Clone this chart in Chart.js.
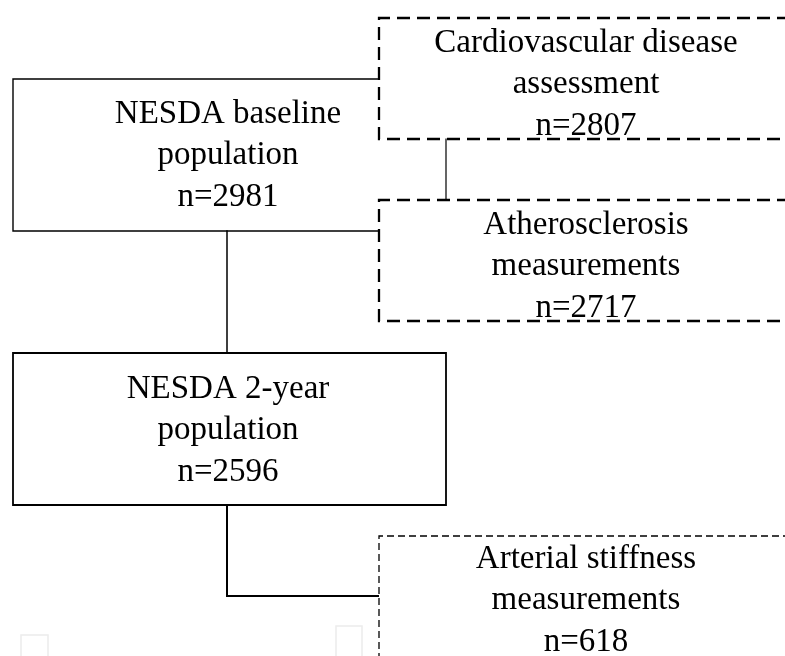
<!DOCTYPE html>
<html>
<head>
<meta charset="utf-8">
<script src="https://cdn.jsdelivr.net/npm/chart.js@4/dist/chart.umd.min.js"></script>
<style>
  html, body { margin: 0; padding: 0; background: #ffffff; }
  #wrap { width: 785px; height: 656px; }
</style>
</head>
<body>
<div id="wrap"><canvas id="c" width="785" height="656"></canvas></div>
<script>
// ---- Flowchart content (data) ----
const nodeTitles = [
  ["NESDA baseline", "population"],
  ["Cardiovascular disease", "assessment"],
  ["Atherosclerosis", "measurements"],
  ["NESDA 2-year", "population"],
  ["Arterial stiffness", "measurements"]
];
const nodeCounts = [2981, 2807, 2717, 2596, 618];

// node text anchor (center x, middle-line baseline y) in chart units
const nodeCenterX = [228, 586, 586, 228, 586];
const nodeMidBaseline = [164, 93, 275, 439, 609];

// box outlines / connectors (chart units, y grows downward)
const pathBaseline   = [[378,79],[13,79],[13,231],[378,231]];
const pathCvd        = [[790,18],[379,18],[379,139],[790,139]];
const pathCvdLink    = [[446,139],[446,200]];
const pathAthero     = [[790,200],[379,200],[379,321],[790,321]];
const pathBaseTo2y   = [[227,231],[227,353]];
const pathTwoYear    = [[13,353],[446,353],[446,505],[13,505],[13,353]];
const pathTwoYearOut = [[227,505],[227,596],[378,596]];
const pathStiffness  = [[790,536],[379,536],[379,665]];
const pathGhostA     = [[21,662],[21,635],[48,635],[48,662]];
const pathGhostB     = [[336,662],[336,626],[362,626],[362,662]];

const toPts = p => p.map(([x, y]) => ({ x, y }));
const solid = (p, w) => ({ data: toPts(p), showLine: true, borderColor: '#000', borderWidth: w, pointRadius: 0, fill: false, tension: 0, borderCapStyle: 'square', borderJoinStyle: 'miter' });
const dashed = (p, w, d) => Object.assign(solid(p, w), { borderDash: d, borderCapStyle: 'butt' });

const textPlugin = {
  id: 'nodeText',
  afterDatasetsDraw(chart) {
    const { ctx, scales: { x, y } } = chart;
    ctx.save();
    ctx.fillStyle = '#000';
    ctx.font = '33px "Liberation Serif", "Times New Roman", serif';
    ctx.textAlign = 'center';
    ctx.textBaseline = 'alphabetic';
    nodeTitles.forEach((lines, i) => {
      const all = lines.concat(['n=' + nodeCounts[i]]);
      const cx = x.getPixelForValue(nodeCenterX[i]);
      all.forEach((t, k) => {
        const by = y.getPixelForValue(nodeMidBaseline[i] + (k - 1) * 41.5);
        ctx.fillText(t, cx, by);
      });
    });
    ctx.restore();
  }
};

new Chart(document.getElementById('c'), {
  type: 'scatter',
  data: {
    datasets: [
      solid(pathBaseline, 1.4),
      dashed(pathCvd, 2.3, [13, 7]),
      solid(pathCvdLink, 1.2),
      dashed(pathAthero, 2.3, [13, 7]),
      solid(pathBaseTo2y, 1.5),
      solid(pathTwoYear, 1.8),
      solid(pathTwoYearOut, 2),
      dashed(pathStiffness, 1.3, [7, 4]),
      Object.assign(solid(pathGhostA, 1.5), { borderColor: '#ececec' }),
      Object.assign(solid(pathGhostB, 1.5), { borderColor: '#ececec' })
    ]
  },
  options: {
    responsive: false,
    animation: false,
    devicePixelRatio: 1,
    layout: { padding: 0 },
    plugins: { legend: { display: false }, tooltip: { enabled: false }, title: { display: false } },
    scales: {
      x: { type: 'linear', min: 0, max: 785, display: false },
      y: { type: 'linear', min: 0, max: 656, reverse: true, display: false }
    }
  },
  plugins: [textPlugin]
});
</script>
</body>
</html>
